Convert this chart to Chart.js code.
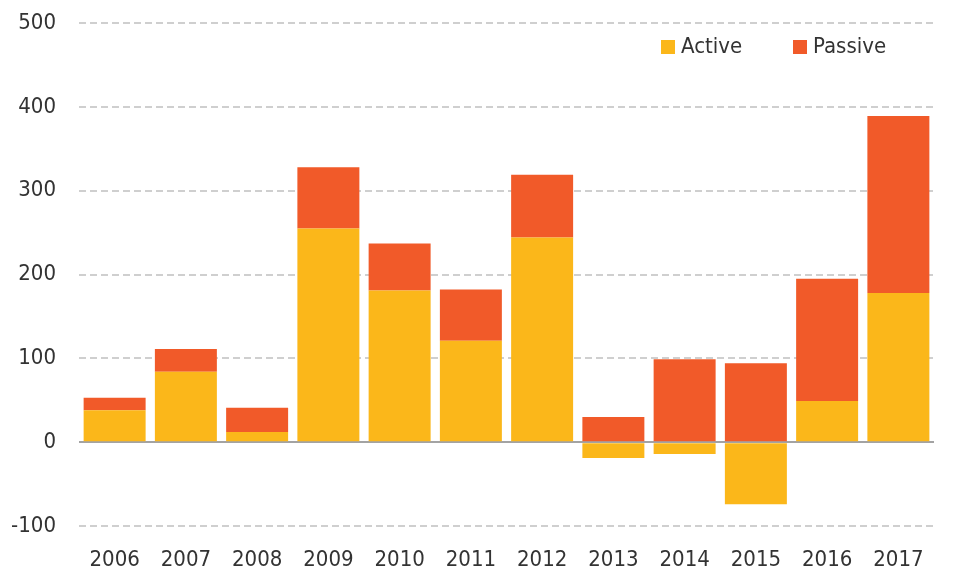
<!DOCTYPE html>
<html>
<head>
<meta charset="utf-8">
<script src="https://cdn.jsdelivr.net/npm/chart.js@4.4.1/dist/chart.umd.min.js"></script>
<style>
  html, body { margin: 0; padding: 0; background: #fff; }
  #wrap { position: relative; width: 955px; height: 572px; }
  .legend { position: absolute; top: 30px; font-family: "Liberation Sans Narrow", "DejaVu Sans Condensed", sans-serif; font-size: 22px; color: #333; line-height: 32px; white-space: nowrap; }
  .legend span.box { display: inline-block; width: 14px; height: 14px; margin-right: 6px; vertical-align: -1px; }
</style>
</head>
<body>
<div id="wrap">
  <canvas id="flows" width="955" height="572"></canvas>
  <div class="legend" style="left:661px"><span class="box" style="background:#FBB71A"></span>Active</div>
  <div class="legend" style="left:793px"><span class="box" style="background:#F15A29"></span>Passive</div>
</div>
<script>
const years = ['2006', '2007', '2008', '2009', '2010', '2011', '2012', '2013', '2014', '2015', '2016', '2017'];
const activeFlows = [38, 84, 12, 255, 181, 121, 244, -19, -14, -74, 49, 178];
const passiveFlows = [15, 27, 29, 73, 56, 61, 75, 30, 99, 94, 146, 211];

const fontFamily = '"Liberation Sans Narrow", "DejaVu Sans Condensed", sans-serif';

new Chart(document.getElementById('flows'), {
  type: 'bar',
  data: {
    labels: years,
    datasets: [
      { label: 'Active', data: activeFlows, backgroundColor: '#FBB71A', borderWidth: 0 },
      { label: 'Passive', data: passiveFlows, backgroundColor: '#F15A29', borderWidth: 0 }
    ]
  },
  options: {
    responsive: false,
    animation: false,
    layout: { padding: { top: 23, right: 21, left: 0, bottom: 0 } },
    datasets: { bar: { categoryPercentage: 1, barPercentage: 0.87 } },
    plugins: { legend: { display: false }, tooltip: { enabled: false } },
    scales: {
      x: {
        stacked: true,
        grid: { display: false },
        border: { display: false },
        ticks: { color: '#333', font: { family: fontFamily, size: 22 }, padding: 13, maxRotation: 0 },
        afterFit(scale) { scale.height = 46; }
      },
      y: {
        stacked: true,
        min: -100,
        max: 500,
        ticks: { stepSize: 100, color: '#333', font: { family: fontFamily, size: 22 }, padding: 0 },
        grid: {
          drawTicks: true,
          tickLength: 23,
          tickColor: 'rgba(0,0,0,0)',
          color: ctx => ctx.tick && ctx.tick.value === 0 ? '#a3a3a3' : '#cfcfcf',
          lineWidth: 2
        },
        border: {
          display: false,
          dash: ctx => ctx.tick && ctx.tick.value === 0 ? [] : [7, 4]
        },
        afterFit(scale) { scale.width = 79; }
      }
    }
  }
});
</script>
</body>
</html>
